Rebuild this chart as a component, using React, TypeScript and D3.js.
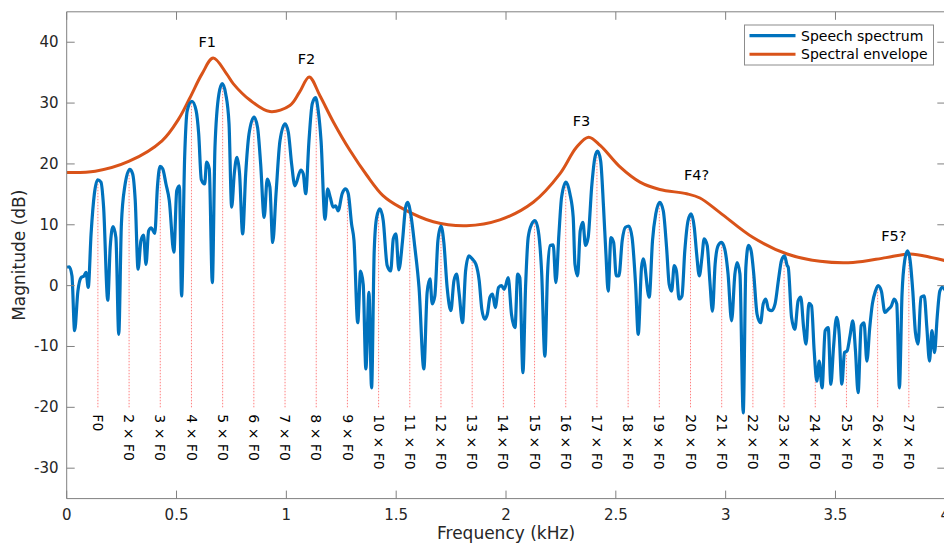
import React from 'react';
import * as d3 from 'd3';

// speech spectrum (kHz, dB)
const spectrumFreq = [
  0.001, 0.012, 0.024, 0.036, 0.051, 0.065, 0.079, 0.088, 0.098, 0.111, 0.126, 0.141, 0.156, 0.168, 0.187, 0.198,
  0.211, 0.224, 0.237, 0.249, 0.264, 0.287, 0.300, 0.312, 0.325, 0.338, 0.350, 0.361, 0.373, 0.385, 0.401, 0.413,
  0.425, 0.437, 0.452, 0.467, 0.488, 0.501, 0.513, 0.523, 0.537, 0.549, 0.570, 0.589, 0.601, 0.613, 0.628, 0.637,
  0.649, 0.663, 0.675, 0.693, 0.708, 0.724, 0.739, 0.751, 0.763, 0.775, 0.787, 0.801, 0.815, 0.830, 0.853, 0.869,
  0.883, 0.899, 0.913, 0.925, 0.938, 0.953, 0.971, 0.994, 1.009, 1.024, 1.039, 1.066, 1.077, 1.088, 1.103, 1.118,
  1.133, 1.145, 1.158, 1.176, 1.188, 1.200, 1.213, 1.224, 1.236, 1.254, 1.270, 1.282, 1.297, 1.308, 1.325, 1.338,
  1.350, 1.362, 1.376, 1.388, 1.400, 1.411, 1.426, 1.441, 1.459, 1.475, 1.487, 1.499, 1.512, 1.529, 1.543, 1.552,
  1.566, 1.585, 1.604, 1.626, 1.641, 1.654, 1.664, 1.676, 1.690, 1.704, 1.717, 1.732, 1.749, 1.763, 1.775, 1.787,
  1.802, 1.816, 1.831, 1.846, 1.863, 1.878, 1.890, 1.903, 1.915, 1.927, 1.939, 1.951, 1.966, 1.980, 1.992, 2.010,
  2.025, 2.041, 2.053, 2.063, 2.077, 2.089, 2.101, 2.117, 2.132, 2.147, 2.162, 2.177, 2.189, 2.201, 2.215, 2.227,
  2.241, 2.253, 2.273, 2.291, 2.306, 2.314, 2.326, 2.338, 2.350, 2.362, 2.374, 2.390, 2.405, 2.417, 2.431, 2.444,
  2.455, 2.465, 2.478, 2.490, 2.502, 2.514, 2.529, 2.544, 2.559, 2.574, 2.590, 2.602, 2.617, 2.625, 2.652, 2.667,
  2.682, 2.700, 2.716, 2.731, 2.743, 2.754, 2.766, 2.776, 2.788, 2.801, 2.814, 2.829, 2.843, 2.857, 2.868, 2.880,
  2.892, 2.902, 2.916, 2.928, 2.940, 2.952, 2.966, 2.981, 2.996, 3.011, 3.027, 3.042, 3.052, 3.065, 3.080, 3.092,
  3.104, 3.116, 3.128, 3.143, 3.159, 3.171, 3.183, 3.195, 3.210, 3.225, 3.241, 3.254, 3.268, 3.280, 3.285, 3.300,
  3.315, 3.330, 3.342, 3.355, 3.366, 3.379, 3.391, 3.403, 3.415, 3.426, 3.439, 3.453, 3.467, 3.479, 3.491, 3.505,
  3.517, 3.529, 3.541, 3.553, 3.566, 3.579, 3.591, 3.603, 3.617, 3.630, 3.643, 3.656, 3.668, 3.682, 3.694, 3.709,
  3.725, 3.740, 3.755, 3.767, 3.779, 3.791, 3.803, 3.815, 3.828, 3.840, 3.852, 3.864, 3.876, 3.889, 3.904, 3.916,
  3.928, 3.939, 3.951, 3.963, 3.975, 3.987, 4.000,
];
const spectrumDb = [
  3.0, 3.1, 1.6, -7.4, -0.9, 1.3, 1.6, 2.2, -0.3, 8.5, 15.1, 17.4, 17.0, 12.9, -2.4, 6.3,
  9.7, 7.9, -8.0, 10.1, 16.2, 19.1, 18.4, 14.0, 2.7, 7.4, 8.3, 3.5, 9.0, 9.5, 8.6, 16.2,
  19.6, 19.2, 16.7, 14.0, 5.5, 15.6, 16.4, -1.7, 21.1, 28.8, 30.3, 28.8, 24.9, 17.4, 16.7, 20.3,
  19.2, 0.5, 22.7, 31.5, 33.2, 31.5, 26.6, 12.9, 18.4, 21.1, 18.4, 8.5, 18.4, 24.9, 27.7, 26.0,
  20.0, 11.2, 17.5, 16.2, 7.1, 15.1, 23.8, 26.6, 25.2, 20.0, 16.4, 19.0, 18.4, 15.1, 23.8, 29.9,
  30.9, 28.8, 23.8, 10.9, 15.9, 14.5, 12.9, 13.1, 12.3, 15.1, 15.9, 15.1, 10.1, 7.4, -6.1, 2.4,
  0.2, -13.7, -1.1, -16.8, 5.7, 11.2, 12.6, 10.7, 3.3, 2.4, 7.7, 8.5, 2.6, 7.4, 12.9, 13.7,
  11.8, 6.3, -0.3, -13.7, -1.1, 1.1, -3.0, -1.7, 7.4, 9.8, 7.1, -0.3, -4.1, 0.8, 1.9, -1.4,
  -6.1, 2.4, 4.9, 4.4, 3.5, 0.8, -3.9, -5.5, -4.7, -1.9, -1.4, -3.6, -0.3, 0.0, -0.6, 1.3,
  -4.7, -6.9, 1.9, 1.3, -14.3, -0.3, 7.9, 10.1, 10.7, 9.0, 2.4, -11.6, 1.9, 6.6, 6.7, 0.5,
  8.5, 14.5, 17.0, 15.1, 11.2, 3.5, 1.6, 9.0, 10.4, 6.6, 7.9, 16.2, 21.1, 22.1, 20.5, 12.9,
  5.2, -0.9, 7.9, 7.1, 1.6, 1.6, 7.4, 9.6, 9.8, 7.9, 0.2, -8.0, 3.0, 4.4, -1.9, 7.4,
  11.8, 13.7, 12.3, 6.3, 0.2, -0.9, 3.3, 2.4, -2.2, -1.7, 5.7, 10.7, 11.8, 9.6, 5.2, 1.6,
  4.6, 7.7, 6.6, 0.8, -4.2, 3.5, 6.6, 7.1, 6.0, 1.9, -5.8, 1.9, 3.8, 1.9, -20.9, 3.0,
  6.6, 5.7, 1.9, -4.7, -6.1, -3.0, -2.2, -3.9, -4.1, -3.0, 1.1, 4.1, 4.9, 3.3, 3.0, -5.2,
  -7.2, -2.5, -1.9, -6.9, -9.6, -2.9, -3.3, -10.7, -15.7, -12.4, -16.8, -7.4, -6.9, -16.2, -10.2, -5.2,
  -8.0, -16.2, -11.0, -10.7, -8.3, -5.8, -10.7, -17.6, -6.6, -6.1, -12.4, -6.9, -3.0, -0.9, 0.0, -0.9,
  -4.4, -3.9, -3.3, -2.2, -3.0, -16.8, -1.4, 4.1, 5.7, 4.1, -0.9, -7.7, -9.6, -1.9, -1.7, -6.9,
  -12.4, -7.4, -11.0, -5.2, -0.9, -0.3, -0.8,
];

// spectral envelope
const envelopeFreq = [
  0, 0.13, 0.282, 0.434, 0.51, 0.56, 0.616, 0.667, 0.728, 0.758, 0.834, 0.925, 1.016, 1.06,
  1.104, 1.153, 1.214, 1.29, 1.367, 1.44, 1.517, 1.669, 1.82, 1.972, 2.124, 2.246, 2.32, 2.376, 2.43, 2.519,
  2.61, 2.70, 2.823, 2.883, 2.974, 3.125, 3.28, 3.43, 3.58, 3.73, 3.84, 3.94, 4.0,
];
const envelopeDb = [
  18.6, 18.8, 20.4, 23.8, 27.4, 30.8, 34.8, 37.4, 34.8, 33.2, 30.5, 28.6, 29.6, 31.8,
  34.3, 31.2, 26.9, 22.2, 18.1, 14.8, 12.9, 10.5, 9.85, 10.8, 13.7, 18.4, 22.7, 24.4, 23.0, 19.5,
  17.0, 15.8, 15.1, 14.4, 12.0, 7.9, 5.2, 4.0, 3.8, 4.6, 5.2, 4.6, 4.1,
];

const F0 = 0.142;
const harmonicNumbers = [1, 2, 3, 4, 5, 6, 7, 8, 9, 10, 11, 12, 13, 14, 15, 16, 17, 18, 19, 20, 21, 22, 23, 24, 25, 26, 27];
const harmonicFloor = -20;

const formantLabels = ['F1', 'F2', 'F3', 'F4?', 'F5?'];
const formantFreq = [0.64, 1.092, 2.344, 2.868, 3.766];
const formantDb = [40.1, 37.2, 27.0, 18.1, 8.1];

const xTicks = [0, 0.5, 1, 1.5, 2, 2.5, 3, 3.5, 4];
const yTicks = [-30, -20, -10, 0, 10, 20, 30, 40];

const BLUE = '#0072BD';
const ORANGE = '#D95319';
const FONT = '"DejaVu Sans", sans-serif';
const TEXT = '#262626';
const AXIS = '#808080';

const W = 944;
const H = 545;
const left = 66.7, right = 945.3, top = 11.8, bottom = 498.6;

export default function App() {
  const x = d3.scaleLinear().domain([0, 4]).range([left, right]);
  const y = d3.scaleLinear().domain([-35, 45]).range([bottom, top]);

  const spectrum = spectrumFreq.map((f, i) => [f, spectrumDb[i]] as [number, number]);
  const envelope = envelopeFreq.map((f, i) => [f, envelopeDb[i]] as [number, number]);

  const spectrumLine = d3.line<[number, number]>().x(d => x(d[0])).y(d => y(d[1])).curve(d3.curveMonotoneX);
  const envelopeLine = d3.line<[number, number]>().x(d => x(d[0])).y(d => y(d[1])).curve(d3.curveCatmullRom.alpha(0.5));

  const bis = d3.bisector((d: [number, number]) => d[0]).left;
  const valueAt = (f: number) => {
    const i = Math.min(Math.max(bis(spectrum, f), 1), spectrum.length - 1);
    const a = spectrum[i - 1], b = spectrum[i];
    const t = (f - a[0]) / (b[0] - a[0]);
    return a[1] + t * (b[1] - a[1]);
  };

  const tick = 8;

  return (
    <svg width={W} height={H} style={{ position: 'absolute', left: 0, top: 0, background: '#fff' }} fontFamily={FONT}>
      <defs>
        <clipPath id="plot">
          <rect x={left} y={top} width={right - left} height={bottom - top} />
        </clipPath>
      </defs>

      {/* harmonic markers */}
      <g>
        {harmonicNumbers.map(n => {
          const f = n * F0;
          return (
            <g key={n}>
              <line x1={x(f)} x2={x(f)} y1={y(harmonicFloor)} y2={y(valueAt(f))}
                stroke="#ff5555" strokeOpacity={0.75} strokeWidth={1} strokeDasharray="1.5,1.5" />
              <text transform={`translate(${x(f)},${y(harmonicFloor) + 7}) rotate(90)`} dy="0.35em"
                fontSize={14} fill="#000">{n === 1 ? 'F0' : `${n} × F0`}</text>
            </g>
          );
        })}
      </g>

      <g clipPath="url(#plot)">
        <path d={envelopeLine(envelope) || ''} fill="none" stroke={ORANGE} strokeWidth={3} strokeLinejoin="round" />
        <path d={spectrumLine(spectrum) || ''} fill="none" stroke={BLUE} strokeWidth={3.2} strokeLinejoin="round" />
      </g>

      {formantLabels.map((lab, i) => (
        <text key={lab} x={x(formantFreq[i])} y={y(formantDb[i])} textAnchor="middle" dominantBaseline="central"
          fontSize={14.5} fill="#000">{lab}</text>
      ))}

      {/* axes box */}
      <g stroke={AXIS} strokeWidth={1} fill="none">
        <line x1={left} x2={left} y1={top} y2={bottom} />
        <line x1={left} x2={right} y1={bottom} y2={bottom} />
        <line x1={left} x2={right} y1={top} y2={top} />
        <line x1={right} x2={right} y1={top} y2={bottom} />
        {xTicks.map(t => (
          <g key={t}>
            <line x1={x(t)} x2={x(t)} y1={bottom} y2={bottom - tick} />
            <line x1={x(t)} x2={x(t)} y1={top} y2={top + tick} />
          </g>
        ))}
        {yTicks.map(t => (
          <g key={t}>
            <line x1={left} x2={left + tick} y1={y(t)} y2={y(t)} />
            <line x1={right} x2={right - tick} y1={y(t)} y2={y(t)} />
          </g>
        ))}
      </g>
      {xTicks.map(t => (
        <text key={t} x={x(t)} y={520} textAnchor="middle" fontSize={15} fill={TEXT}>{String(t)}</text>
      ))}
      {yTicks.map(t => (
        <text key={t} x={58.5} y={y(t)} textAnchor="end" dominantBaseline="central" fontSize={15} fill={TEXT}>{String(t)}</text>
      ))}
      <text x={(left + right) / 2} y={539} textAnchor="middle" fontSize={17} fill={TEXT}>Frequency (kHz)</text>
      <text transform={`translate(19,${(top + bottom) / 2}) rotate(-90)`} textAnchor="middle" dominantBaseline="central"
        fontSize={17} fill={TEXT}>Magnitude (dB)</text>

      {/* legend */}
      <g>
        <rect x={744.5} y={25} width={189} height={40} fill="#fff" stroke="#8c8c8c" strokeWidth={1} />
        <line x1={749.5} x2={795.5} y1={35.7} y2={35.7} stroke={BLUE} strokeWidth={3.2} />
        <line x1={749.5} x2={795.5} y1={54.3} y2={54.3} stroke={ORANGE} strokeWidth={3} />
        <text x={801} y={35.7} dominantBaseline="central" fontSize={14} fill="#000">Speech spectrum</text>
        <text x={801} y={54.3} dominantBaseline="central" fontSize={14} fill="#000">Spectral envelope</text>
      </g>
    </svg>
  );
}
